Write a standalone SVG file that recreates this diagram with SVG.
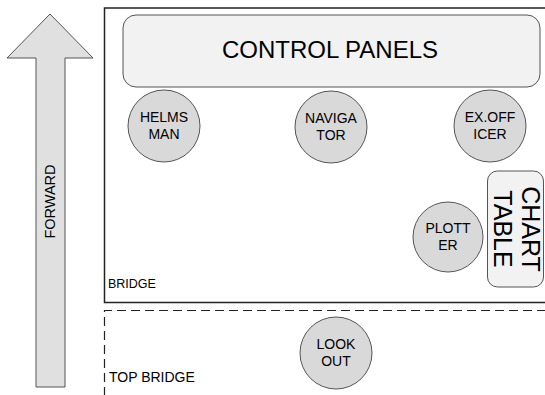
<svg xmlns="http://www.w3.org/2000/svg" width="545" height="395" viewBox="0 0 545 395">
  <style>
    text { font-family: "Liberation Sans", Arial, sans-serif; fill: #000; }
    .seat { fill: #d9d9d9; stroke: #555; stroke-width: 1; }
    .seat-label { font-size: 14px; text-anchor: middle; }
    .panel { fill: #f2f2f2; stroke: #555; stroke-width: 1; }
  </style>
  <rect width="545" height="395" fill="#fff"/>

  <!-- forward direction arrow -->
  <g id="forward">
    <polygon points="50,14 93,58 65,58 65,387 36,387 36,58 7,58" fill="#e0e0e0" stroke="#555" stroke-width="1"/>
    <text transform="translate(55,201.5) rotate(-90)" font-size="14.5" text-anchor="middle">FORWARD</text>
  </g>

  <!-- deck zones -->
  <g id="bridge">
    <path d="M546,8 H104.5 V302.5 H546" fill="none" stroke="#222" stroke-width="1.5"/>
    <text x="108" y="288" font-size="12.5">BRIDGE</text>
  </g>
  <g id="top-bridge">
    <path d="M546,310.5 H104.5 V395" fill="none" stroke="#222" stroke-width="1.2" stroke-dasharray="9,5"/>
    <text x="109" y="382" font-size="14">TOP BRIDGE</text>
  </g>

  <g id="control-panels">
    <rect class="panel" x="123" y="15" width="417" height="72" rx="13"/>
    <text x="330" y="58" font-size="24" text-anchor="middle">CONTROL PANELS</text>
  </g>

  <g id="chart-table">
    <rect class="panel" x="487.5" y="171" width="56" height="116" rx="10"/>
    <text transform="translate(522,229) rotate(90)" font-size="25" text-anchor="middle">CHART</text>
    <text transform="translate(494,229) rotate(90)" font-size="25" text-anchor="middle">TABLE</text>
  </g>

  <g id="helmsman">
    <circle class="seat" cx="164" cy="126" r="36"/>
    <text class="seat-label" x="164" y="122">HELMS</text>
    <text class="seat-label" x="164" y="138.5">MAN</text>
  </g>
  <g id="navigator">
    <circle class="seat" cx="331" cy="127" r="36"/>
    <text class="seat-label" x="331" y="123">NAVIGA</text>
    <text class="seat-label" x="331" y="139.5">TOR</text>
  </g>
  <g id="ex-officer">
    <circle class="seat" cx="490" cy="126" r="36"/>
    <text class="seat-label" x="490" y="122">EX.OFF</text>
    <text class="seat-label" x="490" y="138.5">ICER</text>
  </g>
  <g id="plotter">
    <circle class="seat" cx="448" cy="237" r="35"/>
    <text class="seat-label" x="448" y="233">PLOTT</text>
    <text class="seat-label" x="448" y="249.5">ER</text>
  </g>
  <g id="lookout">
    <circle class="seat" cx="336" cy="353" r="36"/>
    <text class="seat-label" x="336" y="349">LOOK</text>
    <text class="seat-label" x="336" y="365.5">OUT</text>
  </g>

  <g id="connectors"></g>
</svg>
